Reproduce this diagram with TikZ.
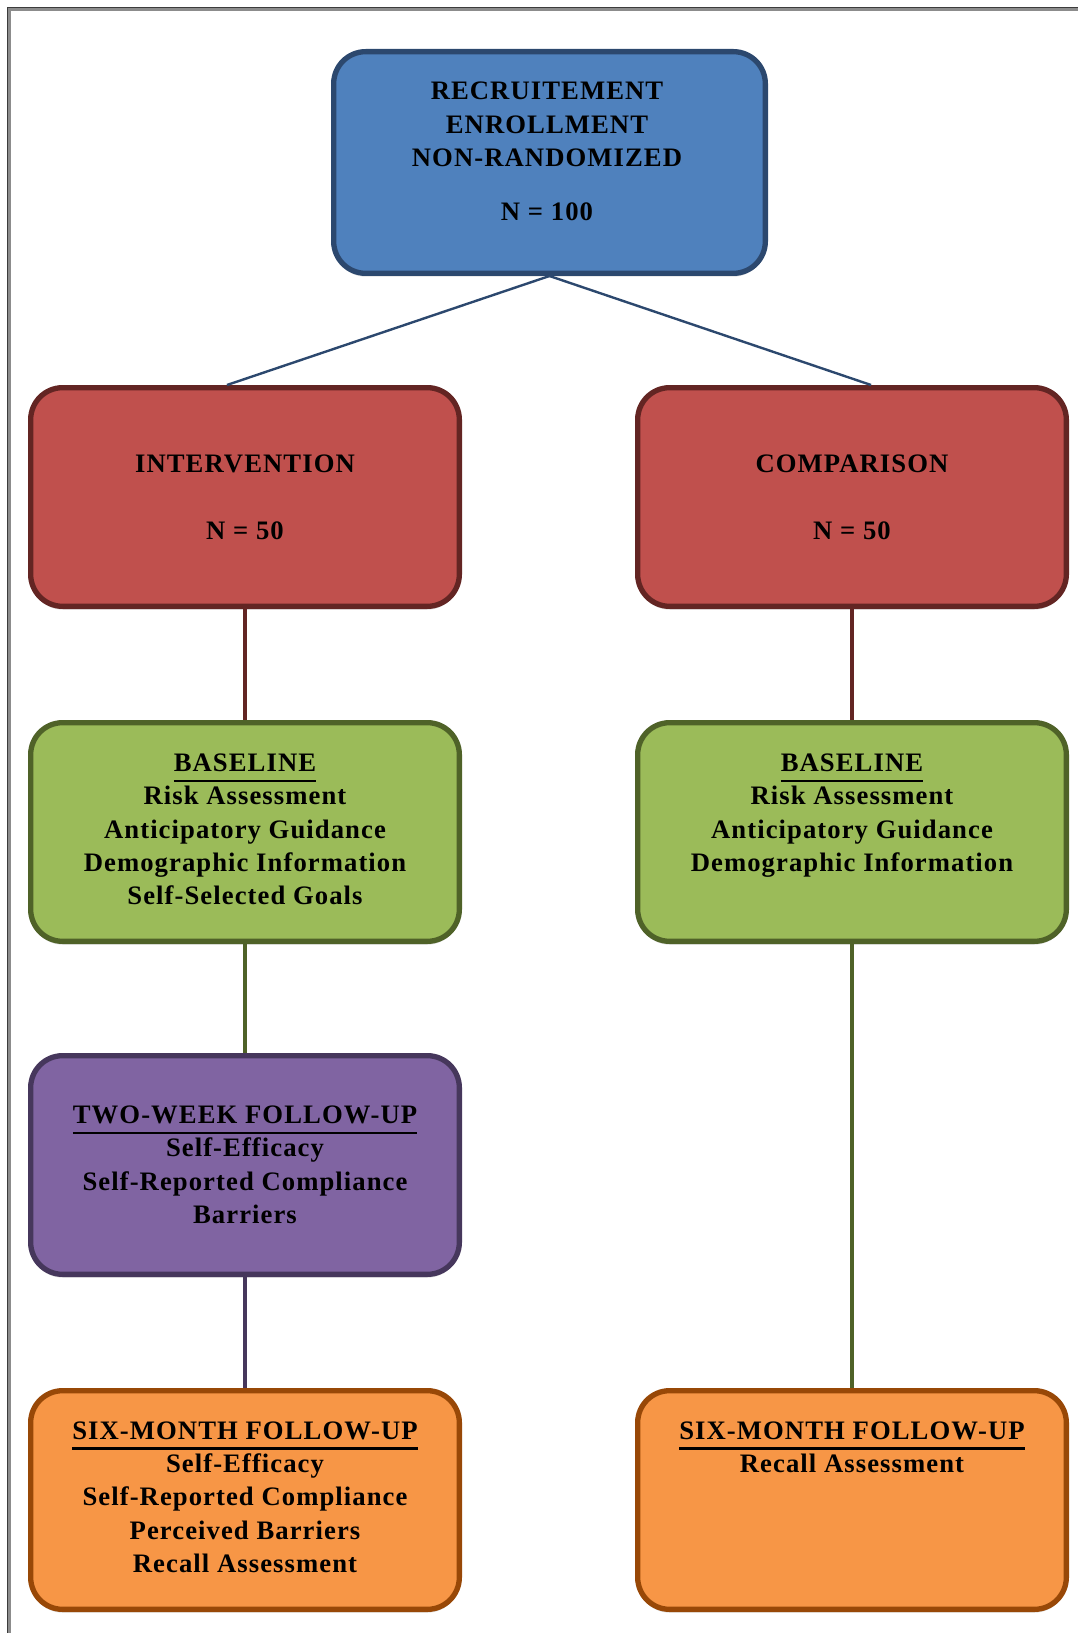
\documentclass[tikz,border=0pt]{standalone}
\usepackage{fontspec}
\usepackage{tikz}
\usetikzlibrary{shadows}
\newfontfamily\boxfont[LetterSpace=4]{Liberation Serif}
\definecolor{framegray}{RGB}{140,140,140}
\definecolor{framedark}{RGB}{60,60,60}
\definecolor{bluefill}{RGB}{79,129,189}
\definecolor{blueline}{RGB}{44,72,110}
\definecolor{redfill}{RGB}{192,80,77}
\definecolor{redline}{RGB}{99,37,35}
\definecolor{greenfill}{RGB}{155,187,89}
\definecolor{greenline}{RGB}{79,98,40}
\definecolor{purplefill}{RGB}{128,100,162}
\definecolor{purpleline}{RGB}{70,55,92}
\definecolor{orangefill}{RGB}{247,150,70}
\definecolor{orangeline}{RGB}{152,72,7}
\newcommand{\headline}[1]{\setbox0\hbox{#1}\leavevmode\rlap{\rule[-8pt]{\wd0}{1.8pt}}\box0}

\begin{document}
\begin{tikzpicture}[x=0.75pt, y=-0.75pt,
  box/.style={draw, rounded corners=24pt, line width=4pt,
    minimum width=321.5pt, minimum height=164pt,
    drop shadow={shadow xshift=0pt, shadow yshift=-2.5pt, opacity=0.25}},
  boxtext/.style={align=center, inner sep=0pt, anchor=north,
    font=\boxfont\bfseries\fontsize{20}{25}\selectfont},
  link/.style={line width=2.4pt}]
  \useasboundingbox (0,0) rectangle (1078,1633);
  \draw[framegray, line width=2pt] (9.5,1633) -- (9.5,9.5) -- (1078,9.5);
  \draw[framedark, line width=0.9pt] (7.8,1633) -- (7.8,7.8) -- (1078,7.8);

  % boxes
  \node[box, fill=bluefill, draw=blueline, minimum width=323.75pt, minimum height=166.25pt] (recruit) at (549.5,162.5) {};
  \node[box, fill=redfill, draw=redline] (inter) at (245,497) {};
  \node[box, fill=redfill, draw=redline] (comp) at (852,497) {};
  \node[box, fill=greenfill, draw=greenline] (baseA) at (245,832) {};
  \node[box, fill=greenfill, draw=greenline] (baseB) at (852,832) {};
  \node[box, fill=purplefill, draw=purpleline] (twoweek) at (245,1165) {};
  \node[box, fill=orangefill, draw=orangeline] (sixA) at (245,1500) {};
  \node[box, fill=orangefill, draw=orangeline] (sixB) at (852,1500) {};

  % texts
  \node[boxtext] (recruit-txt) at (547,81.8) {RECRUITEMENT\\ENROLLMENT\\NON-RANDOMIZED\\[15.5pt]N = 100};
  \node[boxtext] (inter-txt) at (245,454.7) {INTERVENTION\\[25pt]N = 50};
  \node[boxtext] (comp-txt) at (852,454.7) {COMPARISON\\[25pt]N = 50};
  \node[boxtext] (baseA-txt) at (245,753.6) {\headline{BASELINE}\\Risk Assessment\\Anticipatory Guidance\\Demographic Information\\Self-Selected Goals};
  \node[boxtext] (baseB-txt) at (852,753.6) {\headline{BASELINE}\\Risk Assessment\\Anticipatory Guidance\\Demographic Information};
  \node[boxtext] (twoweek-txt) at (245,1105.6) {\headline{TWO-WEEK FOLLOW-UP}\\Self-Efficacy\\Self-Reported Compliance\\Barriers};
  \node[boxtext] (sixA-txt) at (245,1421.2) {\headline{SIX-MONTH FOLLOW-UP}\\Self-Efficacy\\Self-Reported Compliance\\Perceived Barriers\\Recall Assessment};
  \node[boxtext] (sixB-txt) at (852,1421.2) {\headline{SIX-MONTH FOLLOW-UP}\\Recall Assessment};

  % connectors
  \draw[link, blueline, line width=1.8pt] (recruit.south) -- ([xshift=-13.5pt]inter.north);
  \draw[link, blueline, line width=1.8pt] (recruit.south) -- ([xshift=14.25pt]comp.north);
  \draw[link, redline] (inter) -- (baseA);
  \draw[link, redline] (comp) -- (baseB);
  \draw[link, greenline] (baseA) -- (twoweek);
  \draw[link, purpleline] (twoweek) -- (sixA);
  \draw[link, greenline] (baseB) -- (sixB);
\end{tikzpicture}
\end{document}
